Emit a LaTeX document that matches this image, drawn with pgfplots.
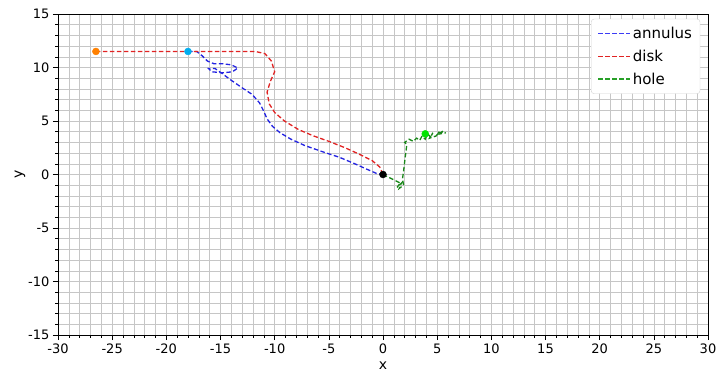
\documentclass[border=0pt]{standalone}
\usepackage{fontspec}
\setmainfont{DejaVu Sans}
\usepackage{pgfplots}
\pgfplotsset{compat=1.18}
\definecolor{mblue}{RGB}{35,35,225}
\definecolor{mred}{RGB}{225,35,35}
\definecolor{mgreen}{RGB}{25,135,25}
\definecolor{lblue}{RGB}{60,60,245}
\definecolor{lgreen}{RGB}{40,160,40}
\tikzset{dsh/.style={line width=1.3pt, dash pattern=on 4.5pt off 2.5pt}}
\begin{document}
\begin{tikzpicture}
\begin{axis}[
  name=ax,
  scale only axis,
  width=650pt, height=321pt,
  xmin=-30, xmax=30, ymin=-15, ymax=15,
  xtick={-30,-25,...,30}, ytick={-15,-10,...,15},
  minor tick num=4,
  grid=both,
  major grid style={gray!45, line width=0.5pt},
  minor grid style={gray!45, line width=0.5pt},
  tick align=outside,
  major tick length=5pt, minor tick length=2.5pt,
  tick style={black, line width=0.6pt},
  axis line style={black, line width=0.7pt},
  xtick pos=bottom, ytick pos=left,
  /pgf/number format/assume math mode=true,
  ticklabel style={font=\fontsize{13}{15}\selectfont},
  xlabel={x}, ylabel={y},
  label style={font=\fontsize{14}{16}\selectfont},
  xlabel style={yshift=-2pt},
  ylabel style={yshift=-4pt},
  legend style={at={(rel axis cs:0.988,0.985)}, anchor=north east, draw=gray!35, rounded corners=3pt, font=\fontsize{15}{17}\selectfont, row sep=6pt, inner xsep=6pt, inner ysep=6pt,
    /tikz/every even column/.append style={column sep=11pt}},
  legend cell align=left,
]
\addlegendimage{legend image code/.code={\draw[draw=lblue, line width=1.6pt, dash pattern=on 4.5pt off 2.5pt] (0pt,0pt) -- (32pt,0pt);}}
\addlegendentry{annulus}
\addlegendimage{legend image code/.code={\draw[draw=mred, line width=1.6pt, dash pattern=on 4.5pt off 2.5pt] (0pt,0pt) -- (32pt,0pt);}}
\addlegendentry{disk}
\addlegendimage{legend image code/.code={\draw[draw=lgreen, line width=1.6pt, dash pattern=on 4.5pt off 2.5pt] (0pt,0pt) -- (32pt,0pt);}}
\addlegendentry{hole}
\addplot[mblue, dsh, forget plot] coordinates {
(-18,11.5) (-17.2,11.5) (-16.7,11.1) (-16.2,10.6) (-15.6,10.35) (-14.8,10.35) (-14.0,10.25) (-13.4,9.95)
(-13.9,9.6) (-14.8,9.5) (-15.8,9.6) (-16.1,9.9) (-15.5,9.9) (-14.8,9.4) (-14.0,8.8) (-13.0,8.1)
(-12.1,7.5) (-11.4,6.7) (-11,5.9) (-10.7,5.2) (-10.2,4.5) (-9.5,3.9) (-8.5,3.3) (-7.2,2.7)
(-5.5,2.1) (-4,1.6) (-2.6,1.0) (-1.5,0.5) (-0.6,0.1) (0,0)
};
\addplot[mred, dsh, forget plot] coordinates {
(-26.5,11.5) (-20,11.5) (-15,11.5) (-11.8,11.5) (-10.9,11.3) (-10.3,10.6) (-10.0,9.6) (-10.4,8.7)
(-10.7,7.7) (-10.5,6.6) (-10.0,5.8) (-9.1,5.0) (-7.8,4.2) (-6.4,3.6) (-5.0,3.1) (-3.5,2.5)
(-2.2,1.9) (-1.0,1.3) (-0.3,0.7) (0,0)
};
\addplot[mgreen, dsh, forget plot] coordinates {
(0,0) (0.6,-0.3) (1.2,-0.6) (1.6,-0.8) (1.3,-1.2) (1.7,-0.8) (1.5,-1.3) (1.9,-1.0) (1.8,-0.4)
(1.9,0.3) (2.0,1.2) (2.1,2.0) (2.2,2.8) (2.0,3.0) (2.4,3.3) (2.8,3.1) (3.1,3.4) (3.4,3.2)
(3.6,3.6) (3.9,3.3) (4.1,3.8) (4.4,3.5) (4.6,3.9) (4.3,3.4) (4.9,3.6) (5.2,4.0) (5.0,3.7)
(5.6,4.1) (5.3,3.8) (5.8,3.9)
};
\addplot[only marks, mark=*, mark size=3.5pt, color=orange, forget plot] coordinates {(-26.5,11.5)};
\addplot[only marks, mark=*, mark size=3.5pt, color=cyan, forget plot] coordinates {(-18,11.5)};
\addplot[only marks, mark=*, mark size=3.5pt, color=black, forget plot] coordinates {(0,0)};
\addplot[only marks, mark=*, mark size=3.5pt, color=green!90!black, forget plot] coordinates {(3.9,3.8)};
\end{axis}
\pgfresetboundingbox
\path ([shift={(-58pt,-43pt)}]ax.south west) rectangle ([shift={(20pt,14pt)}]ax.north east);
\end{tikzpicture}
\end{document}
